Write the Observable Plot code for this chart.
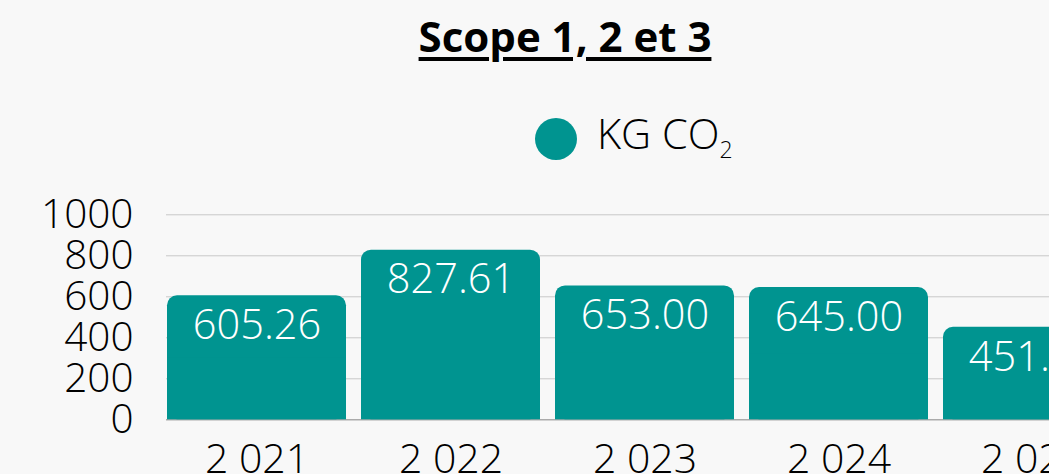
<!DOCTYPE html>
<html><head><meta charset="utf-8">
<script src="https://cdn.jsdelivr.net/npm/d3@7"></script>
<script src="https://cdn.jsdelivr.net/npm/@observablehq/plot@0.6"></script>
<style>
html,body{margin:0;padding:0;background:#f8f8f8;overflow:hidden;width:1049px;height:474px;}
#wrap{position:relative;width:1130px;height:474px;font-family:"Open Sans",sans-serif;color:#000;}
#title{position:absolute;left:0;width:1130px;top:14.7px;text-align:center;font-weight:700;font-size:42px;line-height:42px;text-decoration:underline;text-decoration-thickness:4px;text-underline-offset:5px;}
#dot{position:absolute;left:535px;top:118px;width:42px;height:42px;border-radius:50%;background:#009490;}
#leg{position:absolute;left:597px;top:113px;font-size:41.5px;line-height:41.5px;font-weight:300;white-space:nowrap;}
#leg .sub{font-size:23px;position:relative;top:9px;}
#chart{position:absolute;left:0;top:180px;}
</style></head>
<body>
<div id="wrap">
  <div id="title">Scope 1, 2 et 3</div>
  <div id="dot"></div>
  <div id="leg">KG CO<span class="sub">2</span></div>
  <div id="chart"></div>
</div>
<script>
const years = ["2 021", "2 022", "2 023", "2 024", "2 025"];
const values = [605.26, 827.61, 653.00, 645.00, 451.20];
const yTicks = [0, 200, 400, 600, 800, 1000];
const barColor = "#009490";

const data = years.map((y, i) => ({label: y, value: values[i]}));

const plot = Plot.plot({
  width: 1130,
  height: 300,
  marginTop: 34.3,
  marginBottom: 60.7,
  marginLeft: 166,
  marginRight: 7.5,
  style: {fontFamily: "'Open Sans', sans-serif", fontSize: "40px", fontWeight: 300, background: "transparent", color: "#000", overflow: "visible"},
  x: {domain: years, paddingInner: 0.077, paddingOuter: 0, label: null},
  y: {domain: [0, 1000], label: null},
  marks: [
    Plot.gridY(yTicks, {stroke: "#c8c8c8", strokeOpacity: 1}),
    Plot.ruleY([0], {stroke: "#999"}),
    Plot.barY(data, {x: "label", y: "value", fill: barColor, rx: 10}),
    Plot.barY(data, {x: "label", y: d => d.value / 2, fill: barColor}),
    Plot.text(data, {x: "label", y: "value", text: d => d.value.toFixed(2), dy: 30, fill: "white", fontSize: 41.5, fontWeight: 300}),
    Plot.axisY({ticks: yTicks, tickFormat: d => String(d), tickSize: 0, tickPadding: 33, fontSize: 40.5, fontWeight: 300, label: null}),
    Plot.axisX({tickSize: 0, tickPadding: 24, fontSize: 41, fontWeight: 300, label: null})
  ]
});
document.getElementById("chart").appendChild(plot);
</script>
</body></html>
